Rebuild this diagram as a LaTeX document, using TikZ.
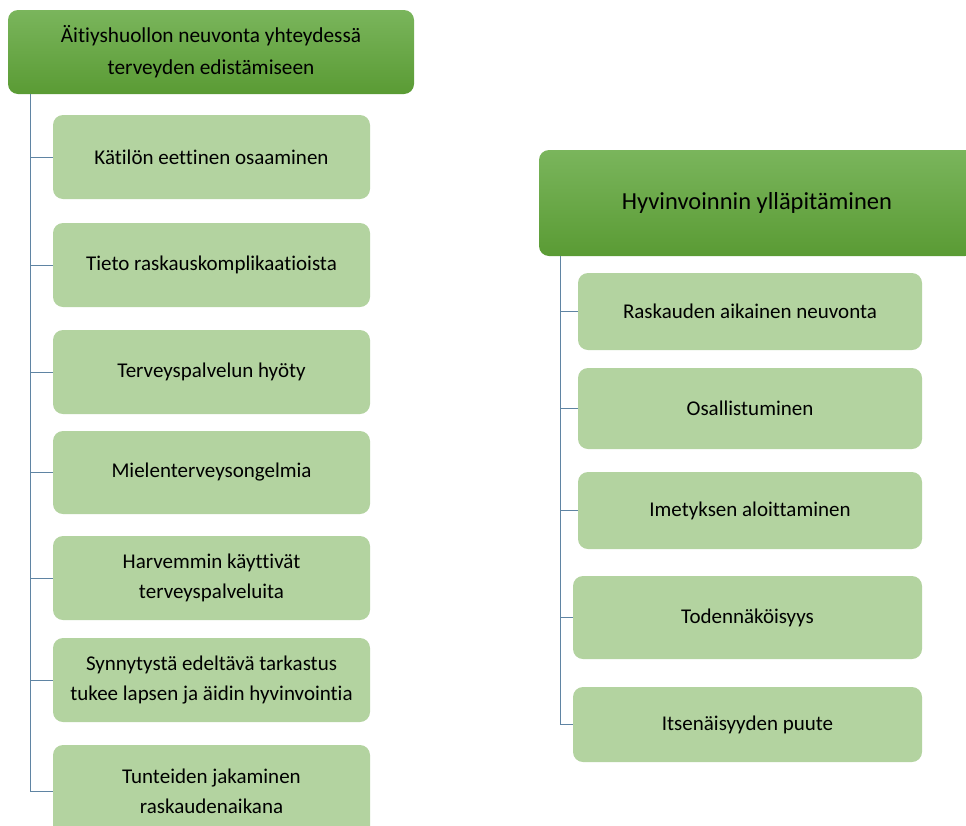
\documentclass[tikz,border=0pt]{standalone}
\usepackage{fontspec}
\setmainfont[RawFeature={-liga;-clig}]{Carlito}
\definecolor{hdrtop}{HTML}{7AB55C}
\definecolor{hdrbot}{HTML}{5A9B34}
\definecolor{childfill}{HTML}{B3D3A0}
\definecolor{linkc}{HTML}{5F84A3}
\tikzset{
  hdrbox/.style={rounded corners=10pt, top color=hdrtop, bottom color=hdrbot, draw=none,
    inner sep=0pt, align=center, text=black},
  childbox/.style={rounded corners=10pt, fill=childfill, draw=none, inner sep=0pt,
    align=center, text=black, font=\fontsize{21}{30}\selectfont},
  link/.style={draw=linkc, line width=0.9pt}
}
\begin{document}
\begin{tikzpicture}[x=1pt,y=-1pt]
\useasboundingbox (0,0) rectangle (966,825);
% left tree
\node[hdrbox, minimum width=406pt, minimum height=84pt, font=\fontsize{21.3}{32}\selectfont] (hL) at (211,52) {Äitiyshuollon neuvonta yhteydessä\\terveyden edistämiseen};
\node[childbox, minimum width=317pt, minimum height=84pt] (L1) at (211.5,157) {Kätilön eettinen osaaminen};
\node[childbox, minimum width=317pt, minimum height=84pt] (L2) at (211.5,265) {Tieto raskauskomplikaatioista};
\node[childbox, minimum width=317pt, minimum height=84pt] (L3) at (211.5,372) {Terveyspalvelun hyöty};
\node[childbox, minimum width=317pt, minimum height=83pt] (L4) at (211.5,472.5) {Mielenterveysongelmia};
\node[childbox, minimum width=317pt, minimum height=84pt] (L5) at (211.5,578) {Harvemmin käyttivät\\terveyspalveluita};
\node[childbox, minimum width=317pt, minimum height=84pt] (L6) at (211.5,680) {Synnytystä edeltävä tarkastus\\tukee lapsen ja äidin hyvinvointia};
\node[childbox, minimum width=317pt, minimum height=92pt] (L7) at (211.5,791) {Tunteiden jakaminen\\raskaudenaikana};
\coordinate (tL) at ([xshift=23pt]hL.south west);
\foreach \n in {L1,L2,L3,L4,L5,L6,L7} \draw[link] (tL) |- (\n.west);
% right tree
\node[hdrbox, minimum width=436pt, minimum height=106pt, font=\fontsize{24.5}{28}\selectfont] (hR) at (757,203) {Hyvinvoinnin ylläpitäminen};
\node[childbox, minimum width=344pt, minimum height=77pt] (R1) at (750,311.5) {Raskauden aikainen neuvonta};
\node[childbox, minimum width=344pt, minimum height=81pt] (R2) at (750,408.5) {Osallistuminen};
\node[childbox, minimum width=344pt, minimum height=77pt] (R3) at (750,510.5) {Imetyksen aloittaminen};
\node[childbox, minimum width=349pt, minimum height=83pt] (R4) at (747.5,617.5) {Todennäköisyys};
\node[childbox, minimum width=349pt, minimum height=75pt] (R5) at (747.5,724.5) {Itsenäisyyden puute};
\coordinate (tR) at ([xshift=22pt]hR.south west);
\foreach \n in {R1,R2,R3,R4,R5} \draw[link] (tR) |- (\n.west);
\end{tikzpicture}
\end{document}
